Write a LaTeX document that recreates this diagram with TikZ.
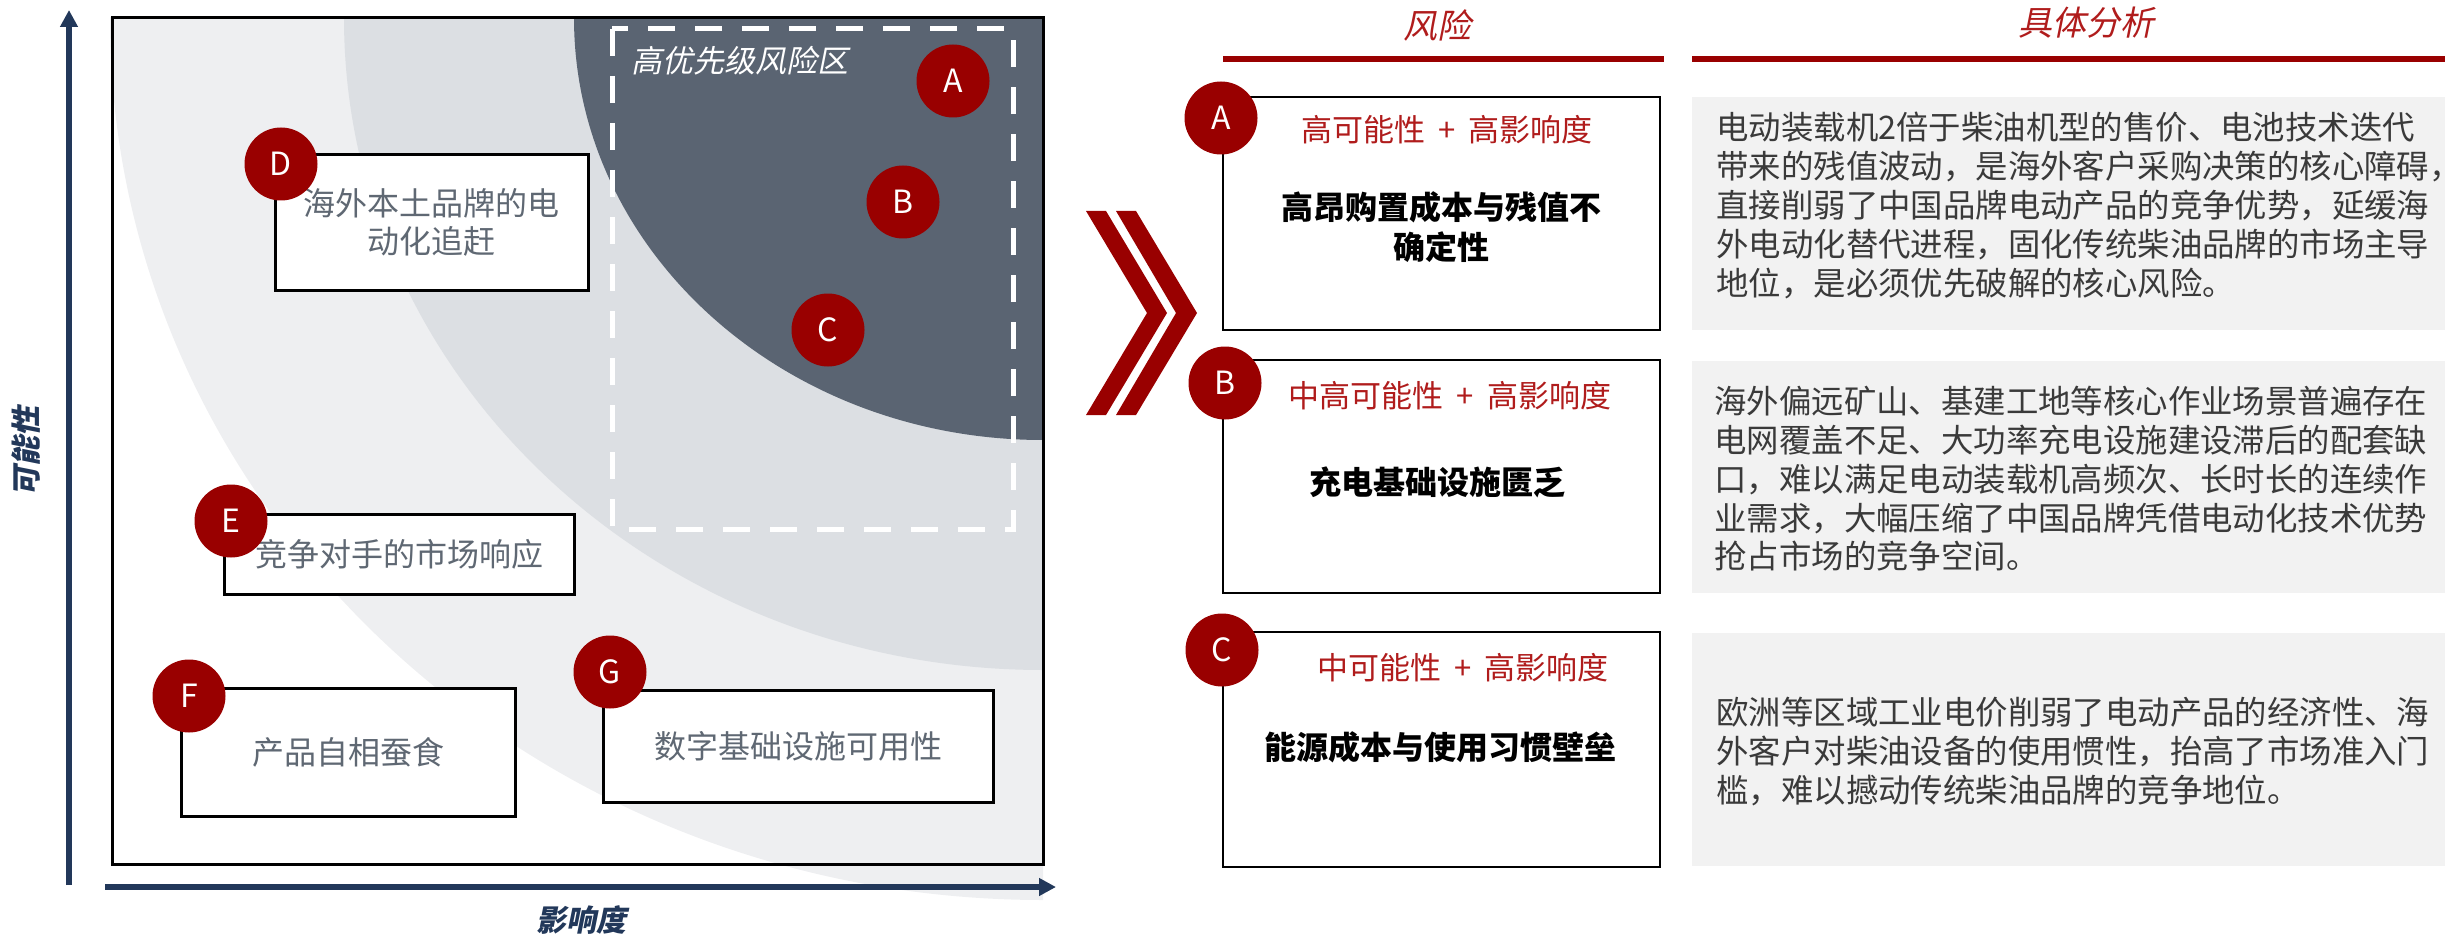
\documentclass[tikz,border=0pt]{standalone}
\usepackage{fontspec}
\setmainfont{Noto Sans CJK SC}
\newfontfamily\cjksl{Noto Sans CJK SC}[FakeSlant=0.2]
\usetikzlibrary{arrows.meta}
\definecolor{darkr}{HTML}{990000}
\definecolor{redtxt}{HTML}{B01C1C}
\definecolor{navy}{HTML}{22385A}
\definecolor{zonedark}{HTML}{5A6472}
\definecolor{zonemid}{HTML}{DCDFE3}
\definecolor{zonelight}{HTML}{EEEFF1}
\definecolor{boxtxt}{HTML}{5F6873}
\definecolor{bodygray}{HTML}{3A3A3A}
\definecolor{panelgray}{HTML}{F2F2F2}
\newcommand{\plusgap}{\hspace{0.42em}+\hspace{0.42em}}
\begin{document}
\begin{tikzpicture}[x=0.5pt,y=-0.5pt,
  badge/.style={circle, fill=darkr, minimum size=36.5pt, inner sep=0pt, text=white, font=\fontsize{16}{16}\selectfont},
  chartbox/.style={draw=black, line width=1.5pt, fill=white, inner sep=0pt, align=center, text=boxtxt, font=\fontsize{16}{19}\selectfont},
  riskbox/.style={draw=black, line width=1.4pt, fill=white, inner sep=0pt},
  panel/.style={fill=panelgray, draw=none, inner sep=0pt, minimum width=376.5pt},
  redsub/.style={inner sep=0pt, text=redtxt, font=\fontsize{15.5}{15.5}\selectfont},
  risktitle/.style={inner sep=0pt, align=center, text=black, font=\bfseries\fontsize{16}{20}\selectfont},
  bodytxt/.style={anchor=north west, inner sep=0pt, align=left, text=bodygray, font=\fontsize{16.2}{19.4}\selectfont},
  headtxt/.style={inner sep=0pt, text=redtxt, font=\cjksl\fontsize{17}{17}\selectfont},
  axislabel/.style={inner sep=0pt, text=navy, font=\cjksl\bfseries\fontsize{15}{15}\selectfont},
  axisline/.style={draw=navy, line width=3pt, -{Triangle[length=8.5pt,width=8.5pt]}}
]
\useasboundingbox (0,0) rectangle (2445,936);

% ---------- zones ----------
\begin{scope}
  \clip (0,18) rectangle (1043,936);
  \fill[zonelight] (1043,18) ellipse [x radius=466.5pt, y radius=441pt];
  \fill[zonemid] (1043,18) ellipse [x radius=349.5pt, y radius=326pt];
  \fill[zonedark] (1043,18) ellipse [x radius=234.5pt, y radius=211pt];
\end{scope}
\draw[line width=1.5pt] (112,18) rectangle (1043,864);
\draw[white, line width=2.5pt, dash pattern=on 13.5pt off 10pt] (612,29) rectangle (1013,529);
\node[inner sep=0pt, text=white, font=\cjksl\fontsize{15.5}{15.5}\selectfont] (zonetitle) at (740,61) {高优先级风险区};

% ---------- axes ----------
\coordinate (ybot) at (69,885);
\coordinate (ytop) at (69,10);
\coordinate (xleft) at (105,887);
\coordinate (xright) at (1056,887);
\draw[axisline] (ybot) -- (ytop);
\draw[axisline] (xleft) -- (xright);
\node[axislabel, rotate=90] (ylab) at (26,451) {可能性};
\node[axislabel] (xlab) at (581,920) {影响度};

% ---------- chart boxes ----------
\node[chartbox, minimum width=156.5pt, minimum height=67.5pt] (bD) at (431.5,222.5) {海外本土品牌的电\\动化追赶};
\node[chartbox, minimum width=175pt, minimum height=40pt] (bE) at (399,554) {竞争对手的市场响应};
\node[chartbox, minimum width=167pt, minimum height=64pt] (bF) at (348,752) {产品自相蚕食};
\node[chartbox, minimum width=195pt, minimum height=56pt] (bG) at (798,746) {数字基础设施可用性};

\node[badge] (cA) at (953,81) {A};
\node[badge] (cB) at (903,202) {B};
\node[badge] (cC) at (828,330) {C};
\node[badge] (cD) at (281,164) {D};
\node[badge] (cE) at (231,521) {E};
\node[badge] (cF) at (189,696) {F};
\node[badge] (cG) at (610,672) {G};

% ---------- chevrons ----------
\fill[darkr] (1086,211) -- (1106,211) -- (1167,313) -- (1106,415) -- (1086,415) -- (1147,313) -- cycle;
\fill[darkr] (1116,211) -- (1136,211) -- (1197,313) -- (1136,415) -- (1116,415) -- (1176,313) -- cycle;

% ---------- right table ----------
\node[headtxt] (h1) at (1437,25) {风险};
\node[headtxt] (h2) at (2086,23) {具体分析};
\coordinate (l1a) at (1223,59);
\coordinate (l1b) at (1664,59);
\coordinate (l2a) at (1692,59);
\coordinate (l2b) at (2445,59);
\draw[darkr, line width=3pt] (l1a) -- (l1b);
\draw[darkr, line width=3pt] (l2a) -- (l2b);

% row A
\node[riskbox, minimum width=218.5pt, minimum height=116.5pt] (rA) at (1441.5,213.5) {};
\node[panel, minimum height=116.5pt] (pA) at (2068.5,213.5) {};
\node[badge] (kA) at (1221,118) {A};
\node[redsub] (sA) at (1447,130) {高可能性\plusgap 高影响度};
\node[risktitle] (tA) at (1441,227) {高昂购置成本与残值不\\确定性};
\node[bodytxt] (dA) at (1716,112) {电动装载机2倍于柴油机型的售价、电池技术迭代\\带来的残值波动，是海外客户采购决策的核心障碍，\\直接削弱了中国品牌电动产品的竞争优势，延缓海\\外电动化替代进程，固化传统柴油品牌的市场主导\\地位，是必须优先破解的核心风险。};

% row B
\node[riskbox, minimum width=218.5pt, minimum height=116.5pt] (rB) at (1441.5,476.5) {};
\node[panel, minimum height=116pt] (pB) at (2068.5,477) {};
\node[badge] (kB) at (1225,383) {B};
\node[redsub] (sB) at (1450,396) {中高可能性\plusgap 高影响度};
\node[risktitle] (tB) at (1437,482) {充电基础设施匮乏};
\node[bodytxt] (dB) at (1714,386) {海外偏远矿山、基建工地等核心作业场景普遍存在\\电网覆盖不足、大功率充电设施建设滞后的配套缺\\口，难以满足电动装载机高频次、长时长的连续作\\业需求，大幅压缩了中国品牌凭借电动化技术优势\\抢占市场的竞争空间。};

% row C
\node[riskbox, minimum width=218.5pt, minimum height=117.5pt] (rC) at (1441.5,749.5) {};
\node[panel, minimum height=116.5pt] (pC) at (2068.5,749.5) {};
\node[badge] (kC) at (1222,650) {C};
\node[redsub] (sC) at (1463,668) {中可能性\plusgap 高影响度};
\node[risktitle] (tC) at (1440,747) {能源成本与使用习惯壁垒};
\node[bodytxt] (dC) at (1716,697) {欧洲等区域工业电价削弱了电动产品的经济性、海\\外客户对柴油设备的使用惯性，抬高了市场准入门\\槛，难以撼动传统柴油品牌的竞争地位。};
\end{tikzpicture}
\end{document}
